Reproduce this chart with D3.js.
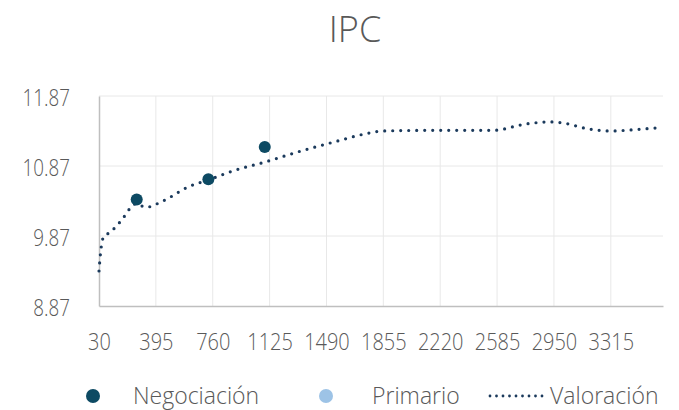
<!DOCTYPE html>
<html>
<head>
<meta charset="utf-8">
<script src="https://d3js.org/d3.v7.min.js"></script>
<style>
  body { margin: 0; background: #fff; }
  text { font-family: "Open Sans", "Noto Sans", sans-serif; fill: #595959; }
</style>
</head>
<body>
<svg width="679" height="410"></svg>
<script>
// data
const xTicks = [30, 395, 760, 1125, 1490, 1855, 2220, 2585, 2950, 3315];
const yTicks = [8.87, 9.87, 10.87, 11.87];

const negociacionDias = [272, 732, 1094];
const negociacionTasa = [10.39, 10.68, 11.14];

const primarioDias = [];
const primarioTasa = [];

const valoracionDias = [30, 40, 60, 100, 165, 270, 330, 440, 610, 730, 890, 1100, 1320, 1550, 1740, 1850, 2200, 2560, 2770, 2920, 3020, 3170, 3320, 3470, 3640];
const valoracionTasa = [9.37, 9.63, 9.86, 9.92, 10.07, 10.33, 10.28, 10.37, 10.58, 10.67, 10.80, 10.93, 11.08, 11.22, 11.33, 11.37, 11.38, 11.38, 11.47, 11.50, 11.48, 11.40, 11.37, 11.39, 11.42];

const svg = d3.select('svg');
const margin = {left: 99, right: 16, top: 96, bottom: 104};
const width = +svg.attr('width');
const height = +svg.attr('height');

const x = d3.scaleLinear().domain([30, 3650]).range([margin.left, width - margin.right]);
const y = d3.scaleLinear().domain([8.87, 11.87]).range([height - margin.bottom, margin.top]);

// title
svg.append('text')
    .attr('x', 355).attr('y', 42)
    .attr('text-anchor', 'middle')
    .style('font-size', '36px')
    .style('font-weight', 300)
    .text('IPC');

// gridlines
svg.append('g').selectAll('line').data(yTicks.slice(1)).join('line')
    .attr('x1', x.range()[0]).attr('x2', x.range()[1])
    .attr('y1', d => y(d)).attr('y2', d => y(d))
    .attr('stroke', '#e8e8e8');
svg.append('g').selectAll('line').data(xTicks.slice(1)).join('line')
    .attr('x1', d => x(d)).attr('x2', d => x(d))
    .attr('y1', y.range()[0]).attr('y2', y.range()[1])
    .attr('stroke', '#e8e8e8');

// axes
const xAxis = svg.append('g')
    .attr('transform', `translate(0,${y(8.87)})`)
    .call(d3.axisBottom(x).tickValues(xTicks).tickSize(0).tickFormat(d3.format('d')));
const yAxis = svg.append('g')
    .attr('transform', `translate(${x(30)},0)`)
    .call(d3.axisLeft(y).tickValues(yTicks).tickSize(0).tickFormat(d3.format('.2f')));
[xAxis, yAxis].forEach(a => {
    a.select('.domain').attr('stroke', '#bfbfbf').attr('stroke-width', 1.5);
    a.selectAll('text').style('font-size', '23.5px').style('fill', '#595959')
        .style('font-weight', 300)
        .style('font-family', '"Open Sans", sans-serif');
});
// the tick font in the picture is narrower than Open Sans
xAxis.selectAll('text').attr('y', 36).attr('dy', '0.35em').attr('transform', 'scale(0.85,1)');
yAxis.selectAll('text').attr('x', 0).attr('dy', '0.4em').attr('transform', 'translate(-29,0) scale(0.8,1)');

// valoracion curve
const line = d3.line()
    .x(d => x(d[0])).y(d => y(d[1]))
    .curve(d3.curveMonotoneX);
svg.append('path')
    .datum(valoracionDias.map((d, i) => [d, valoracionTasa[i]]))
    .attr('d', line)
    .attr('fill', 'none')
    .attr('stroke', '#1b3a5c')
    .attr('stroke-width', 3.2)
    .attr('stroke-linecap', 'round')
    .attr('stroke-dasharray', '0 8');

// points
svg.append('g').selectAll('circle').data(primarioDias.map((d, i) => [d, primarioTasa[i]])).join('circle')
    .attr('cx', d => x(d[0])).attr('cy', d => y(d[1])).attr('r', 5.5).attr('fill', '#9dc3e6');
svg.append('g').selectAll('circle').data(negociacionDias.map((d, i) => [d, negociacionTasa[i]])).join('circle')
    .attr('cx', d => x(d[0])).attr('cy', d => y(d[1])).attr('r', 6).attr('fill', '#0d4a63');

// legend
const lg = svg.append('g').attr('transform', 'translate(0,396)');
lg.append('circle').attr('cx', 93).attr('cy', 0).attr('r', 7).attr('fill', '#0d4a63');
lg.append('text').attr('x', 133).attr('y', 0).attr('dy', '0.35em').style('font-size', '23px').style('font-weight', 300).text('Negociación');
lg.append('circle').attr('cx', 326).attr('cy', 0).attr('r', 7).attr('fill', '#9dc3e6');
lg.append('text').attr('x', 372).attr('y', 0).attr('dy', '0.35em').style('font-size', '23px').style('font-weight', 300).text('Primario');
lg.append('line').attr('x1', 490).attr('x2', 545).attr('y1', 0).attr('y2', 0)
    .attr('stroke', '#1b3a5c').attr('stroke-width', 2.8)
    .attr('stroke-linecap', 'round').attr('stroke-dasharray', '0 6.5');
lg.append('text').attr('x', 550).attr('y', 0).attr('dy', '0.35em').style('font-size', '23px').style('font-weight', 300).text('Valoración');
</script>
</body>
</html>
